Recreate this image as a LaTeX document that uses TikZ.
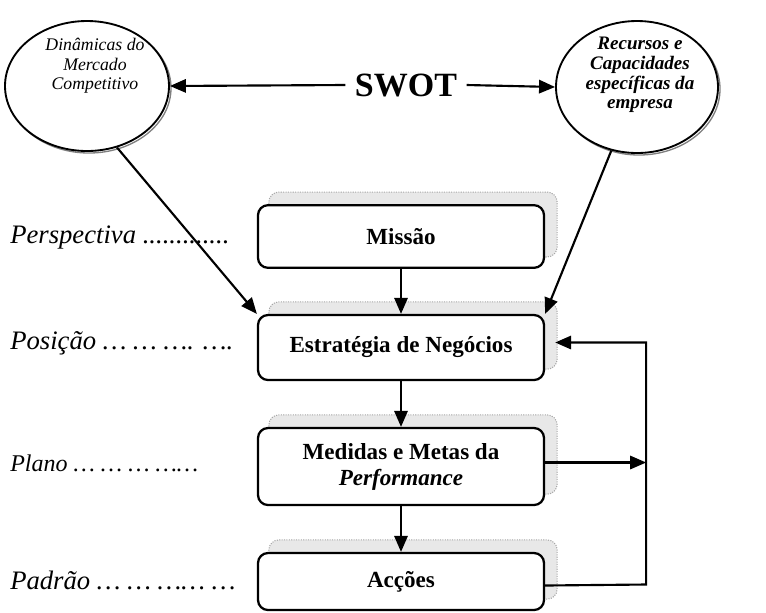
\documentclass[tikz,border=0pt]{standalone}
\usepackage{fontspec}
\setmainfont{Liberation Serif}
\usetikzlibrary{shapes.geometric,arrows.meta,backgrounds,calc}
\begin{document}
\begin{tikzpicture}[x=0.75pt,y=-0.75pt,
  oval/.style={ellipse, draw, line width=1.4pt, fill=white, inner sep=0pt},
  ovaltext/.style={align=center, inner sep=0pt, font=\fontsize{13.3}{14.6}\selectfont\itshape},
  ovalshadow/.style={ellipse, draw=black!50, line width=1pt, inner sep=0pt},
  stage/.style={draw, line width=1.7pt, rounded corners=7.5pt, fill=white, minimum width=214.5pt,
    align=center, inner sep=0pt, font=\fontsize{17.3}{19.5}\selectfont\bfseries},
  stageshadow/.style={fill=black!9, draw=black!35, densely dotted, line width=0.8pt, rounded corners=7.5pt},
  level/.style={anchor=west, inner sep=0pt, font=\fontsize{20}{22}\selectfont\itshape},
  arr/.style={line width=1.6pt, -{Triangle[length=12pt,width=10pt]}},
]
\useasboundingbox (0,0) rectangle (766,612);

% the two sources of the analysis
\node[oval, minimum width=123pt, minimum height=97.5pt] (L) at (87,86) {};
\node[ovaltext] (Lt) at (95,66) {Dinâmicas do\\Mercado\\Competitivo};
\node[oval, minimum width=121.5pt, minimum height=99pt] (R) at (637,87) {};
\node[ovaltext, font=\fontsize{14.3}{14.8}\selectfont\bfseries\itshape] (Rt) at (640,75)
  {Recursos e\\Capacidades\\específicas da\\empresa};
\node[font=\fontsize{25.5}{27}\selectfont\bfseries, inner xsep=7pt] (S) at (406,85) {SWOT};

% the chain of stages
\node[stage, minimum height=47pt] (M) at (401,236.5) {Missão};
\node[stage, minimum height=48.75pt] (E) at (401,347.5) {Estratégia de Negócios};
\node[stage, minimum height=57.75pt] (D) at (401,466.5) {Medidas e Metas da\\\textit{Performance}};
\node[stage, minimum height=42.75pt] (A) at (401,581.5) {Acções};

% level labels on the left
\node[level] (p1) at (10,237) {Perspectiva .............};
\node[level] (p2) at (10,343) {Posição … … …. ….};
\node[level, font=\fontsize{18}{20}\selectfont\itshape] (p3) at (10,463) {Plano … … … ……};
\node[level] (p4) at (10,580) {Padrão … … …… …};

% shadows behind boxes and ovals
\begin{scope}[on background layer]
  \foreach \n in {M,E,D,A}
    \draw[stageshadow] ([shift={(12,-12)}]\n.south west) rectangle ([shift={(12,-12)}]\n.north east);
  \node[ovalshadow, minimum width=123pt, minimum height=97.5pt] (Lsh) at ([shift={(2,2)}]L.center) {};
  \node[ovalshadow, minimum width=121.5pt, minimum height=99pt] (Rsh) at ([shift={(2,2)}]R.center) {};
\end{scope}

% connectors
\draw[arr] (S.west) -- (L.east);
\draw[arr] (S.east) -- (R.west);
\draw[arr] (L.-64) -- (E.north west);
\draw[arr] (R.-112) -- (E.north east);
\draw[arr] (M.south) -- (E.north);
\draw[arr] (E.south) -- (D.north);
\draw[arr] (D.south) -- (A.north);
\coordinate (fb) at ([shift={(101,3)}]A.east);
\draw[arr] ([yshift=-3]A.east) -- (fb) |- ([shift={(10,-5)}]E.east);
\draw[arr] ([yshift=3]D.east) -- ([yshift=3]D.east -| fb);
\end{tikzpicture}
\end{document}
